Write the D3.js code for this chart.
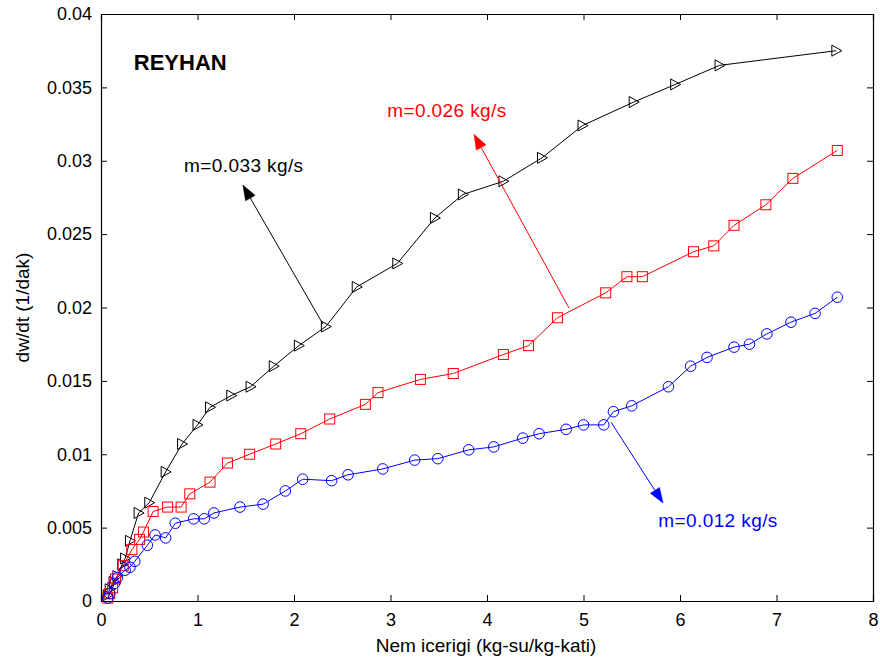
<!DOCTYPE html>
<html>
<head>
<meta charset="utf-8">
<script src="https://cdn.jsdelivr.net/npm/d3@7"></script>
<style>
  html, body { margin: 0; padding: 0; background: #fff; }
  svg { display: block; font-family: "Liberation Sans", Arial, Helvetica, sans-serif; }
</style>
</head>
<body>
<svg id="chart" width="880" height="662"></svg>
<script>
// Drying rate versus moisture content, REYHAN, three air mass flows
const xTicks = [0, 1, 2, 3, 4, 5, 6, 7, 8];
const yTicks = [0, 0.005, 0.01, 0.015, 0.02, 0.025, 0.03, 0.035, 0.04];
const yTickLabels = ["0", "0.005", "0.01", "0.015", "0.02", "0.025", "0.03", "0.035", "0.04"];

// m = 0.033 kg/s
const x033 = [0.07, 0.09, 0.13, 0.17, 0.22, 0.25, 0.30, 0.39, 0.50, 0.67, 0.84, 1.00, 1.13, 1.35, 1.55, 1.79, 2.05, 2.33, 2.65, 3.07, 3.46, 3.75, 4.17, 4.57, 4.99, 5.52, 5.95, 6.41, 7.62];
const y033 = [0.0004, 0.0008, 0.0013, 0.0017, 0.0025, 0.0029, 0.0041, 0.0060, 0.0067, 0.0088, 0.0107, 0.0120, 0.0132, 0.0140, 0.0146, 0.0160, 0.0174, 0.0187, 0.0214, 0.0230, 0.0261, 0.0277, 0.0286, 0.0302, 0.0324, 0.0340, 0.0352, 0.0365, 0.0375];

// m = 0.026 kg/s
const x026 = [0.07, 0.09, 0.12, 0.15, 0.23, 0.32, 0.40, 0.44, 0.54, 0.69, 0.83, 0.92, 1.13, 1.31, 1.54, 1.81, 2.07, 2.37, 2.74, 2.87, 3.31, 3.65, 4.17, 4.43, 4.73, 5.23, 5.45, 5.61, 6.14, 6.35, 6.56, 6.89, 7.17, 7.63];
const y026 = [0.0002, 0.0005, 0.0009, 0.0015, 0.0024, 0.0035, 0.0042, 0.0047, 0.0061, 0.0064, 0.0064, 0.0073, 0.0081, 0.0094, 0.0100, 0.0107, 0.0114, 0.0124, 0.0134, 0.0142, 0.0151, 0.0155, 0.0168, 0.0174, 0.0193, 0.0210, 0.0221, 0.0221, 0.0238, 0.0242, 0.0256, 0.0270, 0.0288, 0.0307];

// m = 0.012 kg/s
const x012 = [0.07, 0.09, 0.14, 0.17, 0.25, 0.30, 0.35, 0.48, 0.56, 0.67, 0.77, 0.96, 1.07, 1.17, 1.44, 1.68, 1.91, 2.09, 2.39, 2.56, 2.92, 3.25, 3.49, 3.81, 4.07, 4.37, 4.54, 4.82, 5.00, 5.21, 5.31, 5.50, 5.88, 6.11, 6.28, 6.56, 6.72, 6.90, 7.15, 7.40, 7.63];
const y012 = [0.0002, 0.0005, 0.0012, 0.0016, 0.0021, 0.0023, 0.0027, 0.0038, 0.0045, 0.0043, 0.0053, 0.0056, 0.0056, 0.0060, 0.0064, 0.0066, 0.0075, 0.0083, 0.0082, 0.0086, 0.0090, 0.0096, 0.0097, 0.0103, 0.0105, 0.0111, 0.0114, 0.0117, 0.0120, 0.0120, 0.0129, 0.0133, 0.0146, 0.0160, 0.0166, 0.0173, 0.0175, 0.0182, 0.0190, 0.0196, 0.0207];

const seriesNames = ["m=0.033 kg/s", "m=0.026 kg/s", "m=0.012 kg/s"];
const seriesColors = ["#000000", "#ff0000", "#0000ff"];
const seriesMarkers = ["triangle", "square", "circle"];

// annotation arrows: [label x, label y, tail x, tail y, tip x, tip y] in data units
const arrows = [
  [1.48, 0.02970, 2.30, 0.01887, 1.47, 0.02834],
  [3.585, 0.03345, 4.85, 0.01996, 3.865, 0.0318],
  [6.394, 0.00552, 5.285, 0.01219, 5.824, 0.00668]
];

const svg = d3.select("#chart");
const x = d3.scaleLinear().domain([0, 8]).range([101, 873]);
const y = d3.scaleLinear().domain([0, 0.04]).range([601, 14]);

const axisFont = 18;

// axes with inward ticks on all four sides
const gx = svg.append("g").attr("transform", `translate(0,${y(0)})`)
  .call(d3.axisBottom(x).tickValues(xTicks).tickSize(-6).tickPadding(12).tickFormat(d3.format("d")));
const gy = svg.append("g").attr("transform", `translate(${x(0)},0)`)
  .call(d3.axisLeft(y).tickValues(yTicks).tickSize(-6).tickPadding(9).tickFormat((d, i) => yTickLabels[i]));
const gt = svg.append("g").attr("transform", `translate(0,${y(0.04)})`)
  .call(d3.axisTop(x).tickValues(xTicks).tickSize(-6).tickFormat(""));
const gr = svg.append("g").attr("transform", `translate(${x(8)},0)`)
  .call(d3.axisRight(y).tickValues(yTicks).tickSize(-6).tickFormat(""));

[gx, gy, gt, gr].forEach(g => {
  g.select(".domain").attr("stroke", "#000").attr("stroke-width", 1.2);
  g.selectAll(".tick line").attr("stroke", "#000").attr("stroke-width", 1);
  g.selectAll("text").attr("font-size", axisFont).attr("fill", "#000")
    .attr("font-family", "'Liberation Sans', Arial, sans-serif");
});

svg.append("text")
  .attr("x", 486).attr("y", 652)
  .attr("text-anchor", "middle").attr("font-size", 19)
  .text("Nem icerigi (kg-su/kg-kati)");

svg.append("text")
  .attr("transform", `translate(29,${(y(0) + y(0.04)) / 2}) rotate(-90)`)
  .attr("text-anchor", "middle").attr("font-size", 19)
  .text("dw/dt (1/dak)");

svg.append("text")
  .attr("x", x(0.34)).attr("y", 70)
  .attr("font-size", 22).attr("font-weight", "bold")
  .text("REYHAN");

const data = [
  d3.zip(x033, y033),
  d3.zip(x026, y026),
  d3.zip(x012, y012)
];

const line = d3.line().x(d => x(d[0])).y(d => y(d[1]));

data.forEach((pts, i) => {
  const g = svg.append("g");
  const c = seriesColors[i];
  g.append("path").datum(pts).attr("d", line)
    .attr("fill", "none").attr("stroke", c).attr("stroke-width", 1);
  const m = seriesMarkers[i];
  const sel = g.selectAll(".mk").data(pts).enter();
  if (m === "triangle") {
    sel.append("path")
      .attr("d", d => {
        const cx = x(d[0]), cy = y(d[1]);
        return `M${cx - 4.5},${cy - 5.5}L${cx + 5.5},${cy}L${cx - 4.5},${cy + 5.5}Z`;
      })
      .attr("fill", "none").attr("stroke", c).attr("stroke-width", 1);
  } else if (m === "square") {
    sel.append("rect")
      .attr("x", d => x(d[0]) - 5).attr("y", d => y(d[1]) - 5)
      .attr("width", 10).attr("height", 10)
      .attr("fill", "none").attr("stroke", c).attr("stroke-width", 1);
  } else {
    sel.append("circle")
      .attr("cx", d => x(d[0])).attr("cy", d => y(d[1])).attr("r", 5.3)
      .attr("fill", "none").attr("stroke", c).attr("stroke-width", 1);
  }
});

// labelled arrows pointing away from each curve
arrows.forEach((a, i) => {
  const c = seriesColors[i];
  const x1 = x(a[2]), y1 = y(a[3]), x2 = x(a[4]), y2 = y(a[5]);
  const ang = Math.atan2(y2 - y1, x2 - x1);
  const L = 15, W = 5.5;
  const bx = x2 - L * Math.cos(ang), by = y2 - L * Math.sin(ang);
  svg.append("line").attr("x1", x1).attr("y1", y1).attr("x2", bx).attr("y2", by)
    .attr("stroke", c).attr("stroke-width", 1);
  const px = -Math.sin(ang), py = Math.cos(ang);
  svg.append("path")
    .attr("d", `M${x2},${y2}L${bx + W * px},${by + W * py}L${bx - W * px},${by - W * py}Z`)
    .attr("fill", c).attr("stroke", c).attr("stroke-width", 0.5);
  svg.append("text")
    .attr("x", x(a[0])).attr("y", y(a[1]))
    .attr("dy", "0.35em")
    .attr("text-anchor", "middle").attr("font-size", 19).attr("fill", c)
    .attr("letter-spacing", "0.4px")
    .text(seriesNames[i]);
});
</script>
</body>
</html>
